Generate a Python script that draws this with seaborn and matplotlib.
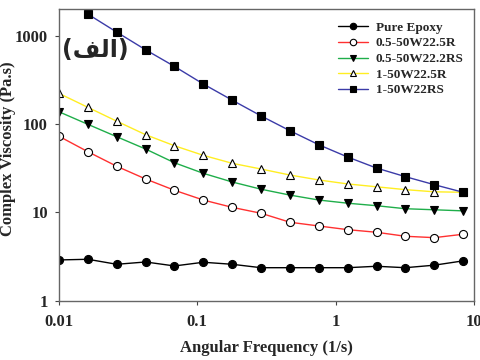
import numpy as np
import pandas as pd
import matplotlib
matplotlib.use("Agg")
import matplotlib.pyplot as plt
import seaborn as sns

# Angular frequency sweep (1/s)
freq = [0.01, 0.01617, 0.02615, 0.0423, 0.0684, 0.1106, 0.1789, 0.2893,
        0.4679, 0.7567, 1.224, 1.979, 3.20, 5.18, 8.37]

# Complex viscosity (Pa.s) per sample
pure_epoxy = [2.89, 2.94, 2.58, 2.74, 2.47, 2.72, 2.58, 2.36, 2.36, 2.36,
              2.36, 2.45, 2.36, 2.52, 2.82]
s_05_r = [72.8, 48.7, 33.3, 23.9, 17.8, 13.8, 11.4, 9.77, 7.73, 7.01,
          6.37, 5.95, 5.36, 5.17, 5.65]
s_05_rs = [138, 99.5, 72.0, 52.2, 36.5, 27.7, 22.1, 18.3, 15.7, 13.8,
           12.7, 11.9, 11.0, 10.7, 10.4]
s_1_r = [223, 155, 108, 75.9, 56.9, 44.3, 36.0, 31.0, 26.5, 23.3,
         21.0, 19.5, 18.1, 17.1, 16.9]
s_1_rs = [None, 1766, 1104, 696, 451, 285, 187, 124, 84.2, 58.4,
          42.4, 31.8, 25.4, 20.6, 16.9]

series_names = ["Pure Epoxy", "0.5-50W22.5R", "0.5-50W22.2RS",
                "1-50W22.5R", "1-50W22RS"]
series_values = [pure_epoxy, s_05_r, s_05_rs, s_1_r, s_1_rs]

line_colors = ["#000000", "#ff3030", "#1fae4a", "#ffee22", "#3b3ba8"]
markers = ["o", "o", "v", "^", "s"]
face_colors = ["#000000", "#ffffff", "#000000", "#ffffff", "#000000"]

sns.set_theme(style="white")
plt.rcParams["font.family"] = ["Liberation Serif", "DejaVu Sans"]
plt.rcParams["font.weight"] = "bold"

fig = plt.figure(figsize=(4.8, 3.6), dpi=100)
ax = fig.add_axes([0.123, 0.165, 0.864, 0.809])

for name, vals, lc, mk, fc in zip(series_names, series_values, line_colors,
                                  markers, face_colors):
    df = pd.DataFrame({"freq": freq, "eta": vals}).dropna()
    sns.lineplot(data=df, x="freq", y="eta", ax=ax, color=lc, linewidth=1.0,
                 marker=mk, markersize=5.8, markerfacecolor=fc,
                 markeredgecolor="#000000", markeredgewidth=0.8,
                 label=name)

ax.set_xscale("log")
ax.set_yscale("log")
ax.set_xlim(0.01, 10)
ax.set_ylim(1, 2000)

ax.set_xticks([0.01, 0.1, 1, 10])
ax.set_xticklabels(["0.01", "0.1", "1", "10"])
ax.set_yticks([1, 10, 100, 1000])
ax.set_yticklabels(["1", "10", "100", "1000"])
ax.minorticks_off()

for sp in ax.spines.values():
    sp.set_color("#666666")
    sp.set_linewidth(1.0)
ax.tick_params(axis="both", which="major", direction="out", length=3,
               width=0.8, color="#444444", labelsize=12, pad=5,
               bottom=True, left=True)
ax.tick_params(axis="x", pad=7)
for lbl in ax.get_xticklabels() + ax.get_yticklabels():
    lbl.set_fontweight("bold")

ax.set_xlabel("Angular Frequency (1/s)", fontsize=12, fontweight="bold")
ax.set_ylabel("Complex Viscosity (Pa.s)", fontsize=12, fontweight="bold")
ax.xaxis.set_label_coords(0.5, -0.137)
ax.yaxis.set_label_coords(-0.104, 0.52)

# panel tag "(الف)" written with Arabic presentation forms
ax.text(0.008, 0.86, "(\uFED2\uFEDF\uFE8D)", transform=ax.transAxes,
        fontsize=17, fontweight="bold", ha="left", va="center",
        family=["DejaVu Sans"])

leg = ax.legend(loc="upper left", bbox_to_anchor=(0.672, 0.958),
                frameon=False, handlelength=2.3, handletextpad=0.6,
                labelspacing=0.26, borderaxespad=0, borderpad=0,
                markerscale=0.8, prop={"weight": "bold", "size": 9.5})

fig.savefig("out.png", dpi=100)
